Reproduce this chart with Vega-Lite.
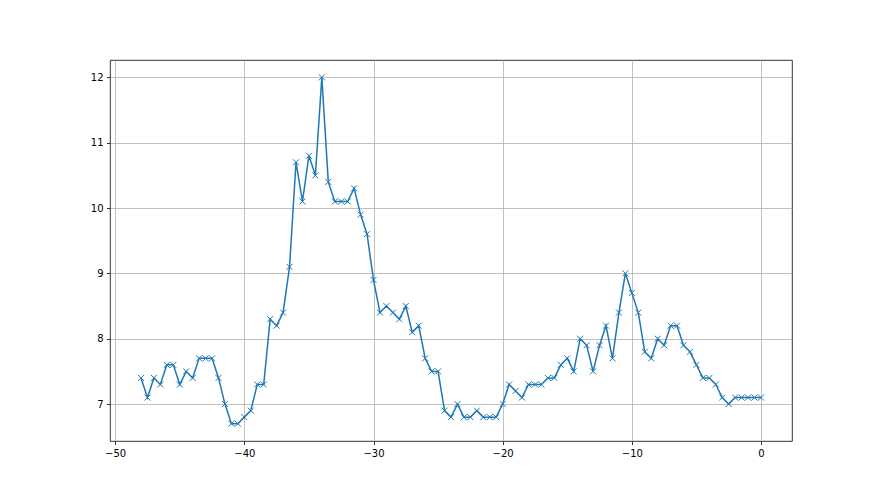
{
  "$schema": "https://vega.github.io/schema/vega-lite/v6.json",
  "width": 682,
  "height": 381,
  "autosize": {"type": "none"},
  "padding": {"left": 110, "top": 60, "right": 88, "bottom": 54},
  "background": "white",
  "config": {
    "view": {"stroke": "black", "strokeWidth": 0.8},
    "axis": {
      "domain": false,
      "grid": true,
      "gridColor": "#b0b0b0",
      "gridWidth": 0.8,
      "gridOpacity": 1,
      "tickColor": "black",
      "tickSize": 3.5,
      "tickWidth": 0.8,
      "labelColor": "black",
      "labelFont": "DejaVu Sans",
      "labelFontSize": 10,
      "labelPadding": 3.5,
      "title": null
    }
  },
  "data": {
    "values": [
      {"x": -48, "y": 7.4}, {"x": -47.5, "y": 7.1}, {"x": -47, "y": 7.4}, {"x": -46.5, "y": 7.3},
      {"x": -46, "y": 7.6}, {"x": -45.5, "y": 7.6}, {"x": -45, "y": 7.3}, {"x": -44.5, "y": 7.5},
      {"x": -44, "y": 7.4}, {"x": -43.5, "y": 7.7}, {"x": -43, "y": 7.7}, {"x": -42.5, "y": 7.7},
      {"x": -42, "y": 7.4}, {"x": -41.5, "y": 7.0}, {"x": -41, "y": 6.7}, {"x": -40.5, "y": 6.7},
      {"x": -40, "y": 6.8}, {"x": -39.5, "y": 6.9}, {"x": -39, "y": 7.3}, {"x": -38.5, "y": 7.3},
      {"x": -38, "y": 8.3}, {"x": -37.5, "y": 8.2}, {"x": -37, "y": 8.4}, {"x": -36.5, "y": 9.1},
      {"x": -36, "y": 10.7}, {"x": -35.5, "y": 10.1}, {"x": -35, "y": 10.8}, {"x": -34.5, "y": 10.5},
      {"x": -34, "y": 12.0}, {"x": -33.5, "y": 10.4}, {"x": -33, "y": 10.1}, {"x": -32.5, "y": 10.1},
      {"x": -32, "y": 10.1}, {"x": -31.5, "y": 10.3}, {"x": -31, "y": 9.9}, {"x": -30.5, "y": 9.6},
      {"x": -30, "y": 8.9}, {"x": -29.5, "y": 8.4}, {"x": -29, "y": 8.5}, {"x": -28.5, "y": 8.4},
      {"x": -28, "y": 8.3}, {"x": -27.5, "y": 8.5}, {"x": -27, "y": 8.1}, {"x": -26.5, "y": 8.2},
      {"x": -26, "y": 7.7}, {"x": -25.5, "y": 7.5}, {"x": -25, "y": 7.5}, {"x": -24.5, "y": 6.9},
      {"x": -24, "y": 6.8}, {"x": -23.5, "y": 7.0}, {"x": -23, "y": 6.8}, {"x": -22.5, "y": 6.8},
      {"x": -22, "y": 6.9}, {"x": -21.5, "y": 6.8}, {"x": -21, "y": 6.8}, {"x": -20.5, "y": 6.8},
      {"x": -20, "y": 7.0}, {"x": -19.5, "y": 7.3}, {"x": -19, "y": 7.2}, {"x": -18.5, "y": 7.1},
      {"x": -18, "y": 7.3}, {"x": -17.5, "y": 7.3}, {"x": -17, "y": 7.3}, {"x": -16.5, "y": 7.4},
      {"x": -16, "y": 7.4}, {"x": -15.5, "y": 7.6}, {"x": -15, "y": 7.7}, {"x": -14.5, "y": 7.5},
      {"x": -14, "y": 8.0}, {"x": -13.5, "y": 7.9}, {"x": -13, "y": 7.5}, {"x": -12.5, "y": 7.9},
      {"x": -12, "y": 8.2}, {"x": -11.5, "y": 7.7}, {"x": -11, "y": 8.4}, {"x": -10.5, "y": 9.0},
      {"x": -10, "y": 8.7}, {"x": -9.5, "y": 8.4}, {"x": -9, "y": 7.8}, {"x": -8.5, "y": 7.7},
      {"x": -8, "y": 8.0}, {"x": -7.5, "y": 7.9}, {"x": -7, "y": 8.2}, {"x": -6.5, "y": 8.2},
      {"x": -6, "y": 7.9}, {"x": -5.5, "y": 7.8}, {"x": -5, "y": 7.6}, {"x": -4.5, "y": 7.4},
      {"x": -4, "y": 7.4}, {"x": -3.5, "y": 7.3}, {"x": -3, "y": 7.1}, {"x": -2.5, "y": 7.0},
      {"x": -2, "y": 7.1}, {"x": -1.5, "y": 7.1}, {"x": -1, "y": 7.1}, {"x": -0.5, "y": 7.1},
      {"x": 0, "y": 7.1}
    ]
  },
  "encoding": {
    "x": {
      "field": "x",
      "type": "quantitative",
      "scale": {"domain": [-50.4, 2.4], "nice": false, "zero": false},
      "axis": {"values": [-50, -40, -30, -20, -10, 0], "format": "d"}
    },
    "y": {
      "field": "y",
      "type": "quantitative",
      "scale": {"domain": [6.435, 12.265], "nice": false, "zero": false},
      "axis": {"values": [7, 8, 9, 10, 11, 12], "format": "d"}
    }
  },
  "layer": [
    {
      "mark": {"type": "line", "color": "#1f77b4", "strokeWidth": 1.5, "clip": true}
    },
    {
      "mark": {
        "type": "point",
        "shape": "M-1,-1L1,1M-1,1L1,-1",
        "size": 36,
        "filled": false,
        "stroke": "#1f77b4",
        "strokeWidth": 1,
        "opacity": 1,
        "clip": true
      }
    }
  ]
}
